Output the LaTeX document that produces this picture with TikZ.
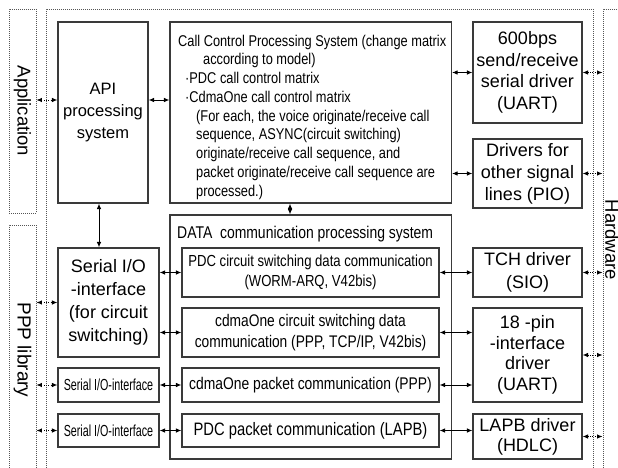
\documentclass[tikz,border=0pt]{standalone}
\usepackage{fontspec}
\setmainfont{Liberation Sans}
\newfontfamily\nar[FakeStretch=0.82]{Liberation Sans}
\newfontfamily\vnar[FakeStretch=0.67]{Liberation Sans}
\usetikzlibrary{arrows.meta}
\definecolor{boxc}{HTML}{3A3A3A}
\definecolor{framec}{HTML}{555555}
\tikzset{
  box/.style={draw=boxc, line width=1.1pt, inner sep=0pt, align=center},
  frame/.style={draw=framec, line width=0.8pt, dash pattern=on 0.8pt off 1.2pt, inner sep=0pt},
  link/.style={line width=0.9pt, {Latex[length=5.5pt,width=4.5pt]}-{Latex[length=5.5pt,width=4.5pt]}},
  dlink/.style={link, dash pattern=on 1pt off 1.3pt},
  big/.style={font=\fontsize{18}{#1}\selectfont},
}
\begin{document}
\begin{tikzpicture}[x=1pt,y=-1pt]
\fill[white] (0,0) rectangle (618,468);
\useasboundingbox (0,0) rectangle (618,468);

% dotted frames
\node[frame, minimum width=27pt, minimum height=204pt] (app) at (22.5,111) {\fontsize{18.5}{20}\selectfont\rotatebox{-90}{Application}};
\node[frame, minimum width=27pt, minimum height=250pt] (ppp) at (22.5,350) {\fontsize{19}{20}\selectfont\rotatebox{-90}{PPP library}};
\node[frame, minimum width=547pt, minimum height=466pt] (mid) at (319.5,242) {};
\node[frame, minimum width=18pt, minimum height=462pt] (hw) at (612,240) {\fontsize{18.5}{20}\selectfont\rotatebox{-90}{Hardware}};

% upper row
\node[box, minimum width=90pt, minimum height=181pt, font=\fontsize{16.5}{22}\selectfont] (api) at (103,112.5) {API\\processing\\system};
\node[box, minimum width=281.5pt, minimum height=181pt] (cc) at (310.75,112.5) {};
\node[anchor=north west, inner sep=0pt, align=left, font=\nar\fontsize{15.6}{18.75}\selectfont] (cctext) at (178,34.6) {%
Call Control Processing System (change matrix\\
\hspace*{25pt}according to model)\\
\hspace*{7pt}·PDC call control matrix\\
\hspace*{7pt}·CdmaOne call control matrix\\
\hspace*{18pt}(For each, the voice originate/receive call\\
\hspace*{18pt}sequence, ASYNC(circuit switching)\\
\hspace*{18pt}originate/receive call sequence, and\\
\hspace*{18pt}packet originate/receive call sequence are\\
\hspace*{18pt}processed.)};
\node[box, minimum width=109pt, minimum height=101pt, big=21.5] (bp) at (527.5,72.5) {600bps\\send/receive\\serial driver\\(UART)};
\node[box, minimum width=109pt, minimum height=69pt, big=22] (drv) at (527.5,173.5) {Drivers for\\other signal\\lines (PIO)};

% data communication
\node[box, minimum width=281.5pt, minimum height=244pt] (dc) at (310.75,337) {};
\node[anchor=base west, inner sep=0pt, font=\nar\fontsize{17}{20}\selectfont] (dctext) at (177,238) {DATA~ communication processing system};
\node[box, minimum width=257pt, minimum height=49pt, font=\nar\fontsize{16}{20}\selectfont] (pdcc) at (310.5,272.5) {PDC circuit switching data communication\\(WORM-ARQ, V42bis)};
\node[box, minimum width=257pt, minimum height=49pt, font=\nar\fontsize{16.8}{21}\selectfont] (cdc) at (310.5,332.5) {cdmaOne circuit switching data\\communication (PPP, TCP/IP, V42bis)};
\node[box, minimum width=257pt, minimum height=34pt, font=\nar\fontsize{16.9}{20}\selectfont] (cdp) at (310.5,385) {cdmaOne packet communication (PPP)};
\node[box, minimum width=257pt, minimum height=33pt, font=\nar\fontsize{18}{20}\selectfont] (pdp) at (310.5,430.5) {PDC packet communication (LAPB)};

% serial interfaces
\node[box, minimum width=101pt, minimum height=109pt, big=23] (sio) at (108.5,302.5) {Serial I/O\\-interface\\(for circuit\\switching)};
\node[box, minimum width=101pt, minimum height=34pt, font=\vnar\fontsize{16}{20}\selectfont] (sio2) at (108.5,385) {Serial I/O-interface};
\node[box, minimum width=101pt, minimum height=33pt, font=\vnar\fontsize{16}{20}\selectfont] (sio3) at (108.5,430.5) {Serial I/O-interface};

% drivers
\node[box, minimum width=109pt, minimum height=49pt, big=23] (tch) at (527.5,272.5) {TCH driver\\(SIO)};
\node[box, minimum width=109pt, minimum height=94pt, big=20.5] (pin) at (527.5,355) {18 -pin\\-interface\\driver\\(UART)};
\node[box, minimum width=109pt, minimum height=45pt, big=20] (lapb) at (527.5,436.5) {LAPB driver\\(HDLC)};

% connectors
\draw[dlink] (app.east |- 0,100) -- (api.west |- 0,100);
\draw[link] (api.east |- 0,100) -- (cc.west |- 0,100);
\draw[link] (cc.east |- bp.west) -- (bp.west);
\draw[link] (cc.east |- drv.west) -- (drv.west);
\draw[dlink] (bp.east) -- (hw.west |- bp.east);
\draw[dlink] (drv.east) -- (hw.west |- drv.east);
\draw[link] (api.south -| 99,0) -- (sio.north -| 99,0);
\draw[link] (cc.south -| 290,0) -- (dc.north -| 290,0);
\draw[dlink] (ppp.east |- sio.west) -- (sio.west);
\draw[dlink] (ppp.east |- sio2.west) -- (sio2.west);
\draw[dlink] (ppp.east |- sio3.west) -- (sio3.west);
\draw[link] (sio.east |- pdcc.west) -- (pdcc.west);
\draw[link] (sio.east |- cdc.west) -- (cdc.west);
\draw[link] (sio2.east) -- (cdp.west);
\draw[link] (sio3.east) -- (pdp.west);
\draw[link] (pdcc.east) -- (tch.west);
\draw[link] (cdc.east) -- (cdc.east -| pin.west);
\draw[link] (cdp.east) -- (cdp.east -| pin.west);
\draw[link] (pdp.east) -- (pdp.east -| lapb.west);
\draw[dlink] (tch.east) -- (tch.east -| hw.west);
\draw[dlink] (pin.east) -- (pin.east -| hw.west);
\draw[dlink] (lapb.east) -- (lapb.east -| hw.west);
\end{tikzpicture}
\end{document}
